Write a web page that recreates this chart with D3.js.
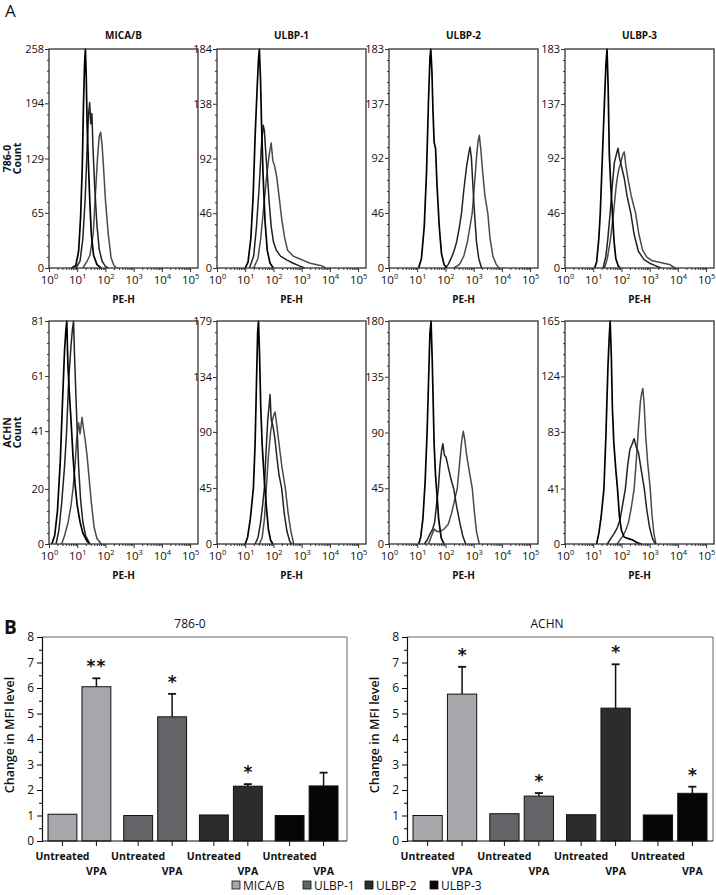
<!DOCTYPE html>
<html><head><meta charset="utf-8">
<script src="https://cdn.jsdelivr.net/npm/d3@7"></script>
<style>body{margin:0;background:#fff} svg{display:block;font-family:"Open Sans",sans-serif}</style>
</head><body><svg id="c" width="716" height="895"></svg>
<script>
// ---------------- DATA: panel A (flow cytometry histograms) ----------------
const histColumns = ["MICA/B", "ULBP-1", "ULBP-2", "ULBP-3"];
const histRows = ["786-0", "ACHN"];
const histYMax = [[258, 184, 183, 183], [81, 179, 180, 165]];
const histYTicks = [
  [[0, 65, 129, 194, 258], [0, 46, 92, 138, 184], [0, 46, 92, 137, 183], [0, 46, 92, 137, 183]],
  [[0, 20, 41, 61, 81], [0, 45, 90, 134, 179], [0, 45, 90, 135, 180], [0, 41, 83, 124, 165]]
];
const xTickExps = [0, 1, 2, 3, 4, 5];
// curves: [log10(PE-H), count]  iso = control (black), unt = untreated, vpa = VPA treated
const mica786Iso = [[0.8,0],[0.95,3],[1.05,20],[1.12,60],[1.18,120],[1.22,190],[1.26,240],[1.29,258],[1.32,225],[1.35,170],[1.4,120],[1.45,75],[1.5,40],[1.58,15],[1.7,4],[1.85,0]];
const mica786Unt = [[0.95,0],[1.1,8],[1.2,35],[1.28,80],[1.35,140],[1.4,180],[1.44,195],[1.48,170],[1.52,182],[1.56,140],[1.62,95],[1.7,50],[1.78,22],[1.88,8],[2.0,2],[2.1,0]];
const mica786Vpa = [[1.2,0],[1.35,8],[1.45,15],[1.57,41],[1.65,90],[1.72,130],[1.78,155],[1.83,160],[1.88,145],[1.93,120],[2.0,80],[2.1,40],[2.2,12],[2.3,3],[2.4,0]];
const ulbp1_786Iso = [[1.0,0],[1.1,5],[1.2,25],[1.28,60],[1.35,110],[1.42,150],[1.47,175],[1.5,184],[1.54,160],[1.58,120],[1.63,80],[1.7,40],[1.78,15],[1.88,4],[2.0,0]];
const ulbp1_786Unt = [[1.15,0],[1.3,10],[1.4,35],[1.5,70],[1.58,105],[1.64,120],[1.68,115],[1.72,100],[1.78,80],[1.85,55],[1.92,35],[2.0,22],[2.1,15],[2.25,10],[2.45,7],[2.7,4],[2.9,2],[3.1,0]];
const ulbp1_786Vpa = [[1.3,0],[1.45,8],[1.55,25],[1.65,50],[1.75,75],[1.85,95],[1.92,105],[1.98,90],[2.05,85],[2.12,76],[2.2,60],[2.3,40],[2.4,25],[2.5,15],[2.7,10],[2.9,8],[3.1,6],[3.3,4],[3.5,3],[3.7,2],[3.85,0]];
const ulbp2_786Iso = [[1.05,0],[1.15,8],[1.25,35],[1.33,80],[1.4,140],[1.45,175],[1.48,183],[1.52,165],[1.56,130],[1.6,105],[1.65,100],[1.7,70],[1.78,35],[1.86,12],[1.95,3],[2.05,0]];
const ulbp2_786Unt = [[2.0,0],[2.1,3],[2.2,8],[2.3,14],[2.4,22],[2.5,35],[2.57,46],[2.65,65],[2.75,85],[2.82,95],[2.87,101],[2.92,92],[2.97,70],[3.03,46],[3.1,22],[3.18,8],[3.28,0]];
const ulbp2_786Vpa = [[2.3,0],[2.5,3],[2.65,10],[2.78,22],[2.88,36],[2.95,46],[3.03,70],[3.1,92],[3.15,105],[3.2,111],[3.25,100],[3.32,80],[3.4,60],[3.5,46],[3.58,25],[3.68,10],[3.8,3],[3.9,0]];
const ulbp3_786Iso = [[1.05,0],[1.12,5],[1.2,25],[1.25,46],[1.32,90],[1.4,140],[1.45,170],[1.49,183],[1.53,150],[1.57,95],[1.62,70],[1.68,46],[1.74,22],[1.8,8],[1.88,2],[1.95,0]];
const ulbp3_786Unt = [[1.35,0],[1.45,10],[1.52,25],[1.6,46],[1.68,70],[1.75,88],[1.82,95],[1.88,100],[1.93,92],[2.0,85],[2.1,75],[2.2,60],[2.33,46],[2.45,28],[2.6,14],[2.8,7],[3.0,4],[3.2,2],[3.4,0]];
const ulbp3_786Vpa = [[1.4,0],[1.5,8],[1.6,22],[1.72,46],[1.82,70],[1.9,82],[1.98,88],[2.05,95],[2.1,97],[2.16,85],[2.25,72],[2.35,60],[2.5,46],[2.62,28],[2.75,15],[2.9,9],[3.1,6],[3.3,5],[3.5,4],[3.7,3],[3.9,0]];
const micaAchnIso = [[0.1,0],[0.2,3],[0.3,12],[0.4,30],[0.48,52],[0.55,70],[0.6,78],[0.63,81],[0.67,65],[0.72,55],[0.78,45],[0.85,32],[0.92,22],[1.0,14],[1.1,8],[1.2,4],[1.35,1],[1.45,0]];
const micaAchnUnt = [[0.25,0],[0.35,5],[0.45,15],[0.55,28],[0.62,40],[0.7,60],[0.78,72],[0.83,78],[0.87,81],[0.9,70],[0.95,55],[1.0,41],[1.05,28],[1.12,16],[1.2,8],[1.3,3],[1.45,0]];
const micaAchnVpa = [[0.45,0],[0.55,3],[0.68,8],[0.78,14],[0.85,20],[0.92,28],[0.98,38],[1.05,44],[1.1,40],[1.17,46],[1.22,42],[1.28,38],[1.35,32],[1.42,24],[1.5,15],[1.6,6],[1.7,2],[1.85,0]];
const ulbp1AchnIso = [[1.0,0],[1.08,5],[1.18,20],[1.29,45],[1.35,80],[1.4,130],[1.44,170],[1.47,179],[1.51,150],[1.55,110],[1.6,80],[1.68,50],[1.75,30],[1.82,12],[1.9,3],[1.98,0]];
const ulbp1AchnUnt = [[1.35,0],[1.45,5],[1.55,18],[1.62,32],[1.68,45],[1.74,75],[1.8,100],[1.85,112],[1.88,120],[1.92,100],[1.98,95],[2.05,85],[2.12,70],[2.2,55],[2.29,45],[2.38,25],[2.48,10],[2.58,2],[2.65,0]];
const ulbp1AchnVpa = [[1.5,0],[1.6,5],[1.68,20],[1.75,45],[1.82,70],[1.9,90],[1.97,100],[2.02,104],[2.06,106],[2.12,95],[2.2,80],[2.3,62],[2.42,45],[2.52,25],[2.62,10],[2.72,0]];
const ulbp2AchnIso = [[1.05,0],[1.12,5],[1.2,20],[1.28,50],[1.35,90],[1.4,130],[1.45,170],[1.49,180],[1.53,150],[1.57,110],[1.6,80],[1.65,55],[1.7,40],[1.76,20],[1.85,5],[1.95,0]];
const ulbp2AchnUnt = [[1.25,0],[1.35,3],[1.45,8],[1.55,12],[1.62,18],[1.7,35],[1.75,45],[1.8,62],[1.86,75],[1.91,81],[1.96,72],[2.02,70],[2.1,62],[2.2,52],[2.29,45],[2.4,30],[2.52,16],[2.62,6],[2.72,0]];
const ulbp2AchnVpa = [[1.4,0],[1.5,6],[1.6,12],[1.7,10],[1.8,10],[1.95,12],[2.1,16],[2.22,25],[2.32,35],[2.42,45],[2.5,65],[2.57,82],[2.63,91],[2.68,85],[2.75,72],[2.85,58],[2.95,45],[3.03,25],[3.1,10],[3.2,0]];
const ulbp3AchnIso = [[1.12,0],[1.2,8],[1.28,20],[1.38,41],[1.45,80],[1.52,130],[1.56,150],[1.6,165],[1.64,140],[1.68,100],[1.73,75],[1.8,55],[1.86,41],[1.93,20],[2.0,10],[2.1,5],[2.25,4],[2.4,3],[2.55,1],[2.7,0]];
const ulbp3AchnUnt = [[1.5,0],[1.62,4],[1.75,8],[1.85,12],[1.95,18],[2.05,30],[2.14,41],[2.22,58],[2.3,70],[2.38,74],[2.45,78],[2.52,72],[2.6,68],[2.7,55],[2.81,41],[2.9,25],[3.0,12],[3.1,4],[3.2,0]];
const ulbp3AchnVpa = [[1.85,0],[1.95,3],[2.05,6],[2.15,10],[2.25,16],[2.35,27],[2.45,41],[2.52,60],[2.6,85],[2.67,105],[2.72,112],[2.76,115],[2.8,105],[2.86,80],[2.93,60],[3.02,41],[3.08,22],[3.15,8],[3.22,0]];

// ---------------- DATA: panel B (bar charts) ----------------
const barGroups = ["MICA/B", "ULBP-1", "ULBP-2", "ULBP-3"];
const treatments = ["Untreated", "VPA"];
const barYTicks = [0, 1, 2, 3, 4, 5, 6, 7, 8];
const untreated786 = [1.05, 1.0, 1.02, 1.0];
const vpa786 = [6.05, 4.87, 2.15, 2.16];
const vpaErr786 = [0.33, 0.90, 0.08, 0.52];
const sig786 = ["**", "*", "*", ""];
const untreatedACHN = [1.0, 1.07, 1.03, 1.02];
const vpaACHN = [5.76, 1.76, 5.21, 1.87];
const vpaErrACHN = [1.07, 0.12, 1.72, 0.26];
const sigACHN = ["*", "*", "*", "*"];
const barColors = ["#a6a7ab", "#636468", "#2b2c2e", "#060606"];

// tables built from the arrays above
const histPanels = [
  [[mica786Iso, mica786Unt, mica786Vpa], [ulbp1_786Iso, ulbp1_786Unt, ulbp1_786Vpa], [ulbp2_786Iso, ulbp2_786Unt, ulbp2_786Vpa], [ulbp3_786Iso, ulbp3_786Unt, ulbp3_786Vpa]],
  [[micaAchnIso, micaAchnUnt, micaAchnVpa], [ulbp1AchnIso, ulbp1AchnUnt, ulbp1AchnVpa], [ulbp2AchnIso, ulbp2AchnUnt, ulbp2AchnVpa], [ulbp3AchnIso, ulbp3AchnUnt, ulbp3AchnVpa]]
];

const svg = d3.select("#c");

// ---------------- Panel A ----------------
svg.append("text").attr("x", 5).attr("y", 17).attr("font-size", 17).attr("fill", "#111").text("A");

const panelLefts = [49, 217, 389, 565], panelW = 149;
const rowTops = [49, 321], rowBottoms = [268, 544];
const curveStyles = [{c: "#000", w: 1.7}, {c: "#222", w: 1.5}, {c: "#4a4a4a", w: 1.5}];
const minorX = [];
for (let d = 0; d < 5; d++) for (let k = 2; k <= 9; k++) minorX.push(d + Math.log10(k));

histColumns.forEach((col, c) => {
  svg.append("text").attr("x", panelLefts[c] + panelW / 2).attr("y", 39)
    .attr("text-anchor", "middle").attr("font-size", 10).attr("font-weight", 700).attr("fill", "#111").text(col);
});

histRows.forEach((row, r) => {
  const T = rowTops[r], B = rowBottoms[r];
  const yl = svg.append("text").attr("transform", `translate(0,${(T + B) / 2}) rotate(-90)`)
    .attr("text-anchor", "middle").attr("font-size", 10.5).attr("font-weight", 700).attr("fill", "#111");
  yl.append("tspan").attr("x", 0).attr("y", 11).text(row);
  yl.append("tspan").attr("x", 0).attr("y", 21).text("Count");

  histColumns.forEach((col, c) => {
    const L = panelLefts[c];
    const x = d3.scaleLinear().domain([0, 5.28]).range([L, L + panelW]);
    const y = d3.scaleLinear().domain([0, histYMax[r][c]]).range([B, T]);
    const g = svg.append("g");
    const line = d3.line().x(d => x(d[0])).y(d => y(d[1])).curve(d3.curveLinear);
    histPanels[r][c].slice().reverse().forEach((curve, i) => {
      const s = curveStyles[2 - i];
      g.append("path").attr("d", line(curve)).attr("fill", "none")
        .attr("stroke", s.c).attr("stroke-width", s.w).attr("stroke-linejoin", "round");
    });
    // y axis
    const ticks = histYTicks[r][c];
    const minorY = [];
    for (let i = 0; i < ticks.length - 1; i++)
      for (let k = 1; k < 5; k++) minorY.push(ticks[i] + (ticks[i + 1] - ticks[i]) * k / 5);
    g.append("g").attr("transform", `translate(${L},0)`)
      .call(d3.axisLeft(y).tickValues(minorY).tickSize(2).tickFormat(""))
      .call(a => a.select(".domain").remove())
      .selectAll("line").attr("stroke", "#333");
    const ya = g.append("g").attr("transform", `translate(${L},0)`)
      .call(d3.axisLeft(y).tickValues(ticks).tickSize(4).tickPadding(1).tickFormat(d3.format("d")));
    ya.select(".domain").remove();
    ya.selectAll("line").attr("stroke", "#333");
    ya.selectAll("text").attr("font-size", 11).attr("fill", "#111").attr("font-family", "Open Sans");
    // x axis
    g.append("g").attr("transform", `translate(0,${B})`)
      .call(d3.axisBottom(x).tickValues(minorX).tickSize(2).tickFormat(""))
      .call(a => a.select(".domain").remove())
      .selectAll("line").attr("stroke", "#333");
    const xa = g.append("g").attr("transform", `translate(0,${B})`)
      .call(d3.axisBottom(x).tickValues(xTickExps).tickSize(4).tickPadding(4).tickFormat(""));
    xa.select(".domain").remove();
    xa.selectAll("line").attr("stroke", "#333");
    xa.selectAll(".tick text").each(function(d) {
      const t = d3.select(this).attr("font-size", 11.5).attr("fill", "#111").attr("font-family", "Open Sans").attr("dy", "0.71em");
      t.append("tspan").attr("fill", "#111").text("10");
      t.append("tspan").attr("fill", "#111").attr("font-size", 7.5).attr("dy", "-0.75em").text(d);
    });
    // frame
    g.append("rect").attr("x", L).attr("y", T).attr("width", panelW).attr("height", B - T)
      .attr("fill", "none").attr("stroke", "#333").attr("stroke-width", 1.3);
    // x label
    g.append("text").attr("x", L + panelW / 2).attr("y", B + 35).attr("text-anchor", "middle")
      .attr("font-size", 10).attr("font-weight", 700).attr("fill", "#111").text("PE-H");
  });
});

// ---------------- Panel B ----------------
svg.append("text").attr("x", 4).attr("y", 634).attr("font-size", 19).attr("font-weight", 700).attr("fill", "#111").text("B");

function drawBars(cfg) {
  const {left, right, barStart, barEnd, title, titleX, labelX, unt, vpa, err, sig} = cfg;
  const T = 637, B = 841;
  const g = svg.append("g");
  const y = d3.scaleLinear().domain([0, 8]).range([B, T]);
  const xg = d3.scaleBand().domain(barGroups).range([barStart, barEnd]).paddingInner(0.17).paddingOuter(0);
  const xt = d3.scaleBand().domain(treatments).range([0, xg.bandwidth()]).paddingInner(0.15).paddingOuter(0);

  barGroups.forEach((grp, i) => {
    const vals = [unt[i], vpa[i]];
    treatments.forEach((tr, j) => {
      const bx = xg(grp) + xt(tr);
      g.append("rect").attr("x", bx).attr("y", y(vals[j])).attr("width", xt.bandwidth())
        .attr("height", y(0) - y(vals[j])).attr("fill", barColors[i]).attr("stroke", "#111").attr("stroke-width", 1);
    });
    // error bar on VPA
    const cx = xg(grp) + xt("VPA") + xt.bandwidth() / 2;
    g.append("line").attr("x1", cx).attr("x2", cx).attr("y1", y(vpa[i])).attr("y2", y(vpa[i] + err[i]))
      .attr("stroke", "#111").attr("stroke-width", 1.5);
    g.append("line").attr("x1", cx - 4).attr("x2", cx + 4).attr("y1", y(vpa[i] + err[i])).attr("y2", y(vpa[i] + err[i]))
      .attr("stroke", "#111").attr("stroke-width", 1.8);
    if (sig[i]) {
      g.append("text").attr("x", cx).attr("y", y(vpa[i] + err[i]) - 6).attr("text-anchor", "middle")
        .attr("font-size", 17).attr("font-weight", 700).attr("font-family", "DejaVu Sans").attr("fill", "#111")
        .attr("letter-spacing", sig[i].length > 1 ? 1 : 0).text(sig[i]);
    }
    // x tick and labels
    treatments.forEach((tr, j) => {
      const tx = xg(grp) + xt(tr) + xt.bandwidth() / 2;
      g.append("line").attr("x1", tx).attr("x2", tx).attr("y1", B).attr("y2", B + 5).attr("stroke", "#111");
      g.append("text").attr("x", tx).attr("y", j === 0 ? 860 : 875).attr("text-anchor", "middle")
        .attr("font-size", 10.5).attr("font-weight", 700).attr("fill", "#111").text(tr);
    });
  });

  // frame (top/right)
  g.append("path").attr("d", `M${left},${T}H${right}V${B}`).attr("fill", "none").attr("stroke", "#666").attr("stroke-width", 1);
  // y axis
  const minor = barYTicks.slice(0, -1).map(v => v + 0.5);
  g.append("g").attr("transform", `translate(${left},0)`)
    .call(d3.axisLeft(y).tickValues(minor).tickSize(3).tickFormat(""))
    .call(a => a.select(".domain").remove());
  const ya = g.append("g").attr("transform", `translate(${left},0)`)
    .call(d3.axisLeft(y).tickValues(barYTicks).tickSize(5).tickPadding(3).tickFormat(d3.format("d")));
  ya.select(".domain").attr("stroke", "#111").attr("stroke-width", 1.2);
  ya.selectAll("text").attr("font-size", 12).attr("fill", "#111").attr("font-family", "Open Sans");
  // x axis line
  g.append("line").attr("x1", left).attr("x2", right).attr("y1", B).attr("y2", B).attr("stroke", "#111").attr("stroke-width", 1.2);
  // title
  g.append("text").attr("x", titleX).attr("y", 628).attr("text-anchor", "middle").attr("font-size", 12).attr("fill", "#111").text(title);
  // y label
  g.append("text").attr("transform", `translate(${labelX},${(T + B) / 2 - 4}) rotate(-90)`).attr("text-anchor", "middle")
    .attr("font-size", 12.5).attr("font-weight", 600).attr("fill", "#111").text("Change in MFI level");
}

drawBars({left: 42, right: 347, barStart: 48, barEnd: 338, title: "786-0", titleX: 190, labelX: 14,
  unt: untreated786, vpa: vpa786, err: vpaErr786, sig: sig786});
drawBars({left: 407, right: 713, barStart: 413, barEnd: 707, title: "ACHN", titleX: 547, labelX: 379,
  unt: untreatedACHN, vpa: vpaACHN, err: vpaErrACHN, sig: sigACHN});

// legend
const legendX = [232, 303, 365, 430];
barGroups.forEach((grp, i) => {
  svg.append("rect").attr("x", legendX[i]).attr("y", 881).attr("width", 8).attr("height", 8)
    .attr("fill", barColors[i]).attr("stroke", "#111").attr("stroke-width", 0.8);
  svg.append("text").attr("x", legendX[i] + 11).attr("y", 890).attr("font-size", 12).attr("fill", "#111").text(grp);
});
</script></body></html>
